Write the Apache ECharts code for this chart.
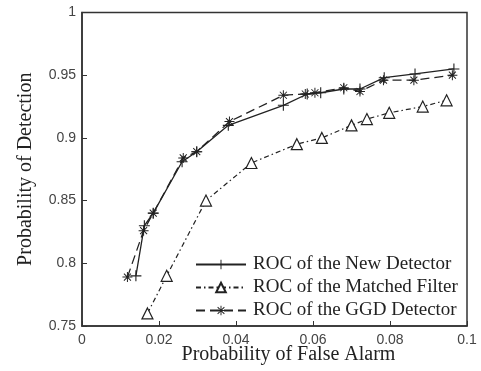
<!DOCTYPE html>
<html>
<head>
<meta charset="utf-8">
<script src="https://cdn.jsdelivr.net/npm/echarts@6/dist/echarts.min.js"></script>
<style>
  html, body { margin: 0; padding: 0; background: #fff; }
  #main { width: 481px; height: 371px; }
</style>
</head>
<body>
<div id="main"></div>
<script>
// values
var newX = [0.014, 0.0162, 0.0185, 0.026, 0.0298, 0.038, 0.0523, 0.0585, 0.062, 0.068, 0.0722, 0.0785, 0.0865, 0.0966];
var newY = [0.790, 0.830, 0.840, 0.881, 0.889, 0.910, 0.926, 0.935, 0.936, 0.939, 0.939, 0.948, 0.951, 0.955];

var mfX = [0.017, 0.022, 0.0322, 0.044, 0.0558, 0.0623, 0.070, 0.074, 0.0798, 0.0885, 0.0947];
var mfY = [0.760, 0.790, 0.850, 0.880, 0.895, 0.900, 0.910, 0.915, 0.920, 0.925, 0.930];

var ggdX = [0.0118, 0.016, 0.0185, 0.0263, 0.0298, 0.0383, 0.0523, 0.058, 0.0605, 0.068, 0.0722, 0.0783, 0.0862, 0.0962];
var ggdY = [0.789, 0.826, 0.840, 0.884, 0.889, 0.913, 0.934, 0.935, 0.936, 0.940, 0.937, 0.946, 0.946, 0.950];

var xTicks = [0, 0.02, 0.04, 0.06, 0.08, 0.1];
var yTicks = [0.75, 0.8, 0.85, 0.9, 0.95, 1];

function pairs(xs, ys) {
  return xs.map(function (x, i) { return [x, ys[i]]; });
}

var plusIcon = 'path://M-1,-0.1h2v0.2h-2zM-0.1,-1h0.2v2h-0.2z';
var starIcon = 'path://M-1,-0.1h2v0.2h-2zM-0.1,-1h0.2v2h-0.2z' +
  'M-0.63,-0.77L0.77,0.63L0.63,0.77L-0.77,-0.63z' +
  'M0.77,-0.63L-0.63,0.77L-0.77,0.63L0.63,-0.77z';

var ink = '#222';

var myChart = echarts.init(document.getElementById('main'));
myChart.setOption({
  animation: false,
  backgroundColor: '#fff',
  grid: {
    left: 82, right: 14, top: 12.5, bottom: 45,
    outerBoundsMode: 'none',
    show: true, borderColor: '#333', borderWidth: 1.5
  },
  xAxis: {
    type: 'value',
    min: xTicks[0], max: xTicks[xTicks.length - 1], interval: 0.02,
    name: 'Probability of False Alarm',
    nameLocation: 'middle',
    nameMoveOverlap: false,
    nameGap: 19,
    nameTextStyle: { fontFamily: 'Liberation Serif', fontSize: 20, color: ink, padding: [0, 0, 0, 28] },
    axisLine: { lineStyle: { color: '#333', width: 1.5 } },
    axisTick: { inside: true, length: 5, lineStyle: { color: '#333' } },
    splitLine: { show: false },
    axisLabel: {
      fontFamily: 'Liberation Sans', fontSize: 14, color: '#444', margin: 7,
      formatter: function (v) { return String(parseFloat(v.toFixed(2))); }
    }
  },
  yAxis: {
    type: 'value',
    min: yTicks[0], max: yTicks[yTicks.length - 1], interval: 0.05,
    name: 'Probability of Detection',
    nameLocation: 'middle',
    nameMoveOverlap: false,
    nameGap: 46,
    nameTextStyle: { fontFamily: 'Liberation Serif', fontSize: 20, color: ink },
    axisLine: { lineStyle: { color: '#333', width: 1.5 } },
    axisTick: { inside: true, length: 5, lineStyle: { color: '#333' } },
    splitLine: { show: false },
    axisLabel: {
      fontFamily: 'Liberation Sans', fontSize: 14, color: '#444', margin: 6,
      formatter: function (v) { return String(parseFloat(v.toFixed(2))); }
    }
  },
  legend: {
    orient: 'vertical',
    left: 190,
    top: 250,
    itemWidth: 50,
    itemHeight: 12,
    itemGap: 4,
    textStyle: { fontFamily: 'Liberation Serif', fontSize: 19, color: ink, lineHeight: 19, padding: [0, 0, 0, 2] },
    data: ['ROC of the New Detector', 'ROC of the Matched Filter', 'ROC of the GGD Detector']
  },
  series: [
    {
      name: 'ROC of the New Detector',
      type: 'line',
      data: pairs(newX, newY),
      symbol: plusIcon,
      symbolSize: 11,
      lineStyle: { color: ink, width: 1.3, type: 'solid' },
      itemStyle: { color: ink }
    },
    {
      name: 'ROC of the Matched Filter',
      type: 'line',
      data: pairs(mfX, mfY),
      symbol: 'triangle',
      symbolSize: 11,
      showAllSymbol: true,
      lineStyle: { color: ink, width: 1.2, type: [5, 3, 1.5, 3] },
      itemStyle: { color: '#fff', borderColor: ink, borderWidth: 1.2 }
    },
    {
      name: 'ROC of the GGD Detector',
      type: 'line',
      data: pairs(ggdX, ggdY),
      symbol: starIcon,
      symbolSize: 10,
      lineStyle: { color: ink, width: 1.3, type: [9, 5] },
      itemStyle: { color: ink }
    }
  ]
});
</script>
</body>
</html>
